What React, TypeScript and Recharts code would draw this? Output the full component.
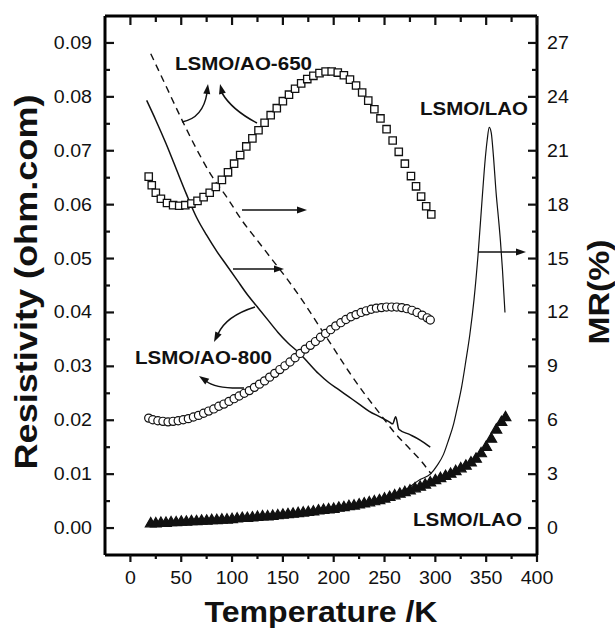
import { ComposedChart, Line, Scatter, XAxis, YAxis, ZAxis } from 'recharts';

// x axis (temperature, K)
const tempTicks = [0, 25, 50, 75, 100, 125, 150, 175, 200, 225, 250, 275, 300, 325, 350, 375, 400];
// left axis: resistivity (ohm.cm)
const rhoTicks = [0, 0.005, 0.01, 0.015, 0.02, 0.025, 0.03, 0.035, 0.04, 0.045, 0.05, 0.055, 0.06, 0.065, 0.07, 0.075, 0.08, 0.085, 0.09];
// right axis: MR (%)
const mrTicks = [0, 1.5, 3, 4.5, 6, 7.5, 9, 10.5, 12, 13.5, 15, 16.5, 18, 19.5, 21, 22.5, 24, 25.5, 27];

// LSMO/AO-650 resistivity (squares)
const ao650T = [18, 21, 25, 30, 36, 42, 48, 54, 60, 66, 72, 78, 84, 90, 96, 102, 108, 114, 120, 126, 132, 138, 144, 150, 156, 162, 168, 174, 180, 186, 192, 198, 204, 210, 216, 222, 228, 234, 240, 246, 252, 258, 264, 270, 276, 281, 286, 291, 296];
const ao650Rho = [0.0652, 0.0636, 0.0622, 0.0611, 0.0603, 0.0599, 0.0598, 0.0599, 0.0602, 0.0607, 0.0614, 0.0622, 0.0633, 0.0646, 0.066, 0.0676, 0.0692, 0.0708, 0.0723, 0.0738, 0.0752, 0.0766, 0.0779, 0.0792, 0.0804, 0.0815, 0.0825, 0.0833, 0.0839, 0.0844, 0.0847, 0.0847, 0.0845, 0.084, 0.0832, 0.0821, 0.0808, 0.0793, 0.0777, 0.076, 0.074, 0.0719, 0.0698, 0.0676, 0.0653, 0.0634, 0.0615, 0.0597, 0.0582];

// LSMO/AO-800 resistivity (circles)
const ao800T = [18, 22, 27, 32, 37, 42, 47, 52, 57, 62, 67, 72, 77, 82, 87, 92, 97, 102, 107, 112, 117, 122, 127, 132, 137, 142, 147, 152, 157, 162, 167, 172, 177, 182, 187, 192, 197, 202, 207, 212, 217, 222, 227, 232, 237, 242, 247, 252, 257, 262, 267, 272, 277, 282, 287, 292, 295];
const ao800Rho = [0.0204, 0.0201, 0.0199, 0.0198, 0.0197, 0.0198, 0.0199, 0.0201, 0.0203, 0.0206, 0.0209, 0.0213, 0.0217, 0.0221, 0.0226, 0.023, 0.0235, 0.024, 0.0245, 0.025, 0.0255, 0.0261, 0.0267, 0.0273, 0.028, 0.0287, 0.0294, 0.0301, 0.0308, 0.0316, 0.0324, 0.0332, 0.0339, 0.0346, 0.0354, 0.0361, 0.0368, 0.0375, 0.0381, 0.0387, 0.0392, 0.0396, 0.04, 0.0403, 0.0406, 0.0408, 0.0409, 0.041, 0.041, 0.041, 0.0409, 0.0407, 0.0404, 0.04, 0.0395, 0.039, 0.0386];

// LSMO/LAO resistivity (triangles)
const laoT = [20, 25, 30, 35, 40, 45, 50, 55, 60, 65, 70, 75, 80, 85, 90, 95, 100, 105, 110, 115, 120, 125, 130, 135, 140, 145, 150, 155, 160, 165, 170, 175, 180, 185, 190, 195, 200, 205, 210, 215, 220, 225, 230, 235, 240, 245, 250, 255, 260, 265, 270, 275, 280, 285, 290, 295, 300, 305, 310, 315, 320, 325, 330, 335, 340, 345, 350, 355, 360, 365, 369];
const laoRho = [0.0008, 0.0008, 0.0009, 0.0009, 0.001, 0.001, 0.0011, 0.0011, 0.0012, 0.0012, 0.0013, 0.0013, 0.0014, 0.0014, 0.0015, 0.0015, 0.0016, 0.0017, 0.0018, 0.0018, 0.0019, 0.002, 0.0021, 0.0021, 0.0022, 0.0023, 0.0024, 0.0025, 0.0026, 0.0027, 0.0028, 0.0029, 0.003, 0.0032, 0.0033, 0.0034, 0.0035, 0.0037, 0.0038, 0.004, 0.0041, 0.0043, 0.0045, 0.0047, 0.0049, 0.0051, 0.0054, 0.0057, 0.006, 0.0063, 0.0066, 0.0069, 0.0073, 0.0076, 0.008, 0.0084, 0.0088, 0.0092, 0.0096, 0.01, 0.0105, 0.011, 0.0115, 0.0121, 0.0128, 0.0138, 0.015, 0.0165, 0.0182, 0.0196, 0.0205];

// MR of AO-650 (dashed)
const mr650T = [20, 35, 50, 65, 80, 95, 110, 125, 140, 155, 170, 185, 200, 215, 230, 245, 260, 275, 285, 296];
const mr650 = [26.4, 24.6, 22.8, 21.1, 19.6, 18.4, 17.1, 16.0, 14.9, 13.8, 12.6, 11.3, 10.0, 8.7, 7.5, 6.4, 5.3, 4.4, 3.8, 3.0];

// MR of AO-800 (solid)
const mr800T = [16, 25, 35, 45, 55, 65, 75, 85, 95, 105, 115, 125, 135, 145, 155, 165, 175, 185, 195, 205, 215, 225, 235, 245, 255, 258, 261, 264, 275, 285, 295];
const mr800 = [23.8, 22.7, 21.4, 20.0, 18.6, 17.3, 16.3, 15.4, 14.6, 13.8, 13.0, 12.3, 11.6, 10.9, 10.3, 9.8, 9.2, 8.6, 8.1, 7.7, 7.3, 6.9, 6.5, 6.2, 5.9, 5.8, 6.2, 5.5, 5.2, 4.9, 4.5];

// MR of LAO (thin solid)
const mrLaoT = [265, 275, 285, 295, 302, 308, 313, 318, 322, 326, 330, 334, 338, 342, 346, 349, 351, 353, 355, 357, 360, 362, 364, 366, 368.5];
const mrLao = [1.9, 2.3, 2.7, 3.0, 3.5, 4.1, 4.9, 5.8, 6.8, 7.9, 9.3, 10.8, 12.7, 15.2, 18.3, 20.5, 21.6, 22.3, 22.0, 20.8, 18.5, 17.3, 16.0, 14.4, 12.0];

const toRows = (xs: number[], ys: number[]) => xs.map((T, i) => ({ T, v: ys[i] }));

const FONT = '"Liberation Sans", Arial, Helvetica, sans-serif';
const INK = '#111';

const BottomTick = ({ x, y, payload }: any) => {
  const major = payload.value % 50 === 0;
  return (
    <g>
      <line x1={x} y1={y} x2={x} y2={y + (major ? 7 : 4)} stroke={INK} strokeWidth={2.2} />
      {major && (
        <text transform={`translate(${x},${y + 29}) scale(1.12,1)`} textAnchor="middle" fontSize={17.5} fontFamily={FONT} fill={INK}>
          {payload.value}
        </text>
      )}
    </g>
  );
};

const TopTick = ({ x, y, payload }: any) => {
  const major = payload.value % 50 === 0;
  return <line x1={x} y1={y} x2={x} y2={y + (major ? 9 : 6)} stroke={INK} strokeWidth={2.2} />;
};

const LeftTick = ({ x, y, payload }: any) => {
  const major = Math.round(payload.value * 1000) % 10 === 0;
  return (
    <g>
      <line x1={x} y1={y} x2={x + (major ? 9 : 5)} y2={y} stroke={INK} strokeWidth={2.2} />
      {major && (
        <text transform={`translate(${x - 13},${y + 6}) scale(1.12,1)`} textAnchor="end" fontSize={17.5} fontFamily={FONT} fill={INK}>
          {payload.value.toFixed(2)}
        </text>
      )}
    </g>
  );
};

const RightTick = ({ x, y, payload }: any) => {
  const major = payload.value % 3 === 0;
  return (
    <g>
      <line x1={x} y1={y} x2={x - (major ? 9 : 5)} y2={y} stroke={INK} strokeWidth={2.2} />
      {major && (
        <text transform={`translate(${x + 10},${y + 6}) scale(1.12,1)`} textAnchor="start" fontSize={17.5} fontFamily={FONT} fill={INK}>
          {payload.value}
        </text>
      )}
    </g>
  );
};

// curved / straight annotation arrow, head drawn along the last segment
function Arrow({ d, from, tip }: { d: string; from: [number, number]; tip: [number, number] }) {
  const [fx, fy] = from;
  const [tx, ty] = tip;
  const len = Math.hypot(tx - fx, ty - fy) || 1;
  const ux = (tx - fx) / len;
  const uy = (ty - fy) / len;
  const bx = tx - ux * 10;
  const by = ty - uy * 10;
  const head = `${tx},${ty} ${bx - uy * 3.5},${by + ux * 3.5} ${bx + uy * 3.5},${by - ux * 3.5}`;
  return (
    <g>
      <path d={d} fill="none" stroke={INK} strokeWidth={1.5} />
      <polygon points={head} fill={INK} />
    </g>
  );
}

const axisLine = { stroke: '#000', strokeWidth: 3 };

export default function App() {
  return (
    <div style={{ position: 'absolute', left: 0, top: 0, width: 615, height: 631, background: '#fff', fontFamily: FONT }}>
      <ComposedChart width={615} height={631} margin={{ top: 14, right: 76, bottom: 74, left: 103 }}>
        <XAxis xAxisId="b" type="number" dataKey="T" domain={[-25, 400]} ticks={tempTicks} interval={0}
          allowDataOverflow tickSize={0} tickMargin={0} height={2} axisLine={axisLine} tickLine={false} tick={<BottomTick />} />
        <XAxis xAxisId="t" orientation="top" type="number" dataKey="T" domain={[-25, 400]} ticks={tempTicks} interval={0}
          allowDataOverflow tickSize={0} tickMargin={0} height={2} axisLine={axisLine} tickLine={false} tick={<TopTick />} />
        <YAxis yAxisId="l" type="number" domain={[-0.005, 0.095]} ticks={rhoTicks} interval={0} allowDataOverflow
          tickSize={0} tickMargin={0} width={2} axisLine={axisLine} tickLine={false} tick={<LeftTick />} />
        <YAxis yAxisId="r" orientation="right" type="number" domain={[-1.5, 28.5]} ticks={mrTicks} interval={0} allowDataOverflow
          tickSize={0} tickMargin={0} width={2} axisLine={axisLine} tickLine={false} tick={<RightTick />} />
        <ZAxis zAxisId="sq" range={[54, 54]} />
        <ZAxis zAxisId="ci" range={[52, 52]} />
        <ZAxis zAxisId="tr" range={[50, 50]} />

        <Line xAxisId="b" yAxisId="r" data={toRows(mr650T, mr650)} dataKey="v" type="monotone" stroke={INK}
          strokeWidth={1.4} strokeDasharray="7 5" dot={false} isAnimationActive={false} />
        <Line xAxisId="b" yAxisId="r" data={toRows(mr800T, mr800)} dataKey="v" type="monotone" stroke={INK}
          strokeWidth={1.5} dot={false} isAnimationActive={false} />
        <Line xAxisId="b" yAxisId="r" data={toRows(mrLaoT, mrLao)} dataKey="v" type="monotone" stroke={INK}
          strokeWidth={1.2} dot={false} isAnimationActive={false} />

        <Scatter xAxisId="b" yAxisId="l" zAxisId="tr" data={toRows(laoT, laoRho)} dataKey="v" shape="triangle"
          fill={INK} stroke={INK} strokeWidth={1.2} isAnimationActive={false} />
        <Scatter xAxisId="b" yAxisId="l" zAxisId="ci" data={toRows(ao800T, ao800Rho)} dataKey="v" shape="circle"
          fill="#fff" stroke={INK} strokeWidth={1.2} isAnimationActive={false} />
        <Scatter xAxisId="b" yAxisId="l" zAxisId="sq" data={toRows(ao650T, ao650Rho)} dataKey="v" shape="square"
          fill="#fff" stroke={INK} strokeWidth={1.3} isAnimationActive={false} />
      </ComposedChart>

      <svg width={615} height={631} style={{ position: 'absolute', left: 0, top: 0, pointerEvents: 'none' }} fontFamily={FONT}>
        {/* axis titles */}
        <text transform="translate(37,282) rotate(-90)" textAnchor="middle" fontSize={31} fontWeight="bold" fill={INK}
          textLength={375} lengthAdjust="spacingAndGlyphs">Resistivity (ohm.com)</text>
        <text x={321} y={622} textAnchor="middle" fontSize={30} fontWeight="bold" fill={INK}
          textLength={233} lengthAdjust="spacingAndGlyphs">Temperature /K</text>
        <text transform="translate(609,292) rotate(-90)" textAnchor="middle" fontSize={30} fontWeight="bold" fill={INK}
          textLength={105} lengthAdjust="spacingAndGlyphs">MR(%)</text>

        {/* series labels */}
        <text x={175} y={69.5} fontSize={17.5} fontWeight="bold" fill={INK} textLength={137} lengthAdjust="spacingAndGlyphs">LSMO/AO-650</text>
        <text x={135} y={364} fontSize={17.5} fontWeight="bold" fill={INK} textLength={137} lengthAdjust="spacingAndGlyphs">LSMO/AO-800</text>
        <text x={420} y={114.5} fontSize={17.5} fontWeight="bold" fill={INK} textLength={108} lengthAdjust="spacingAndGlyphs">LSMO/LAO</text>
        <text x={413} y={525.5} fontSize={17.5} fontWeight="bold" fill={INK} textLength={109} lengthAdjust="spacingAndGlyphs">LSMO/LAO</text>

        {/* pointer arrows */}
        <Arrow d="M182 122 Q203 118 207 93" from={[206, 100]} tip={[208, 84]} />
        <Arrow d="M257 123 Q232 110 222 93" from={[224, 100]} tip={[220, 84]} />
        <Arrow d="M242 210 L298 210" from={[242, 210]} tip={[307, 210]} />
        <Arrow d="M233 269 L275 269" from={[233, 269]} tip={[284, 269]} />
        <Arrow d="M255 307 Q226 316 218 334" from={[221, 328]} tip={[214, 342]} />
        <Arrow d="M244 388 Q216 389 206 381" from={[212, 385]} tip={[199, 376]} />
        <Arrow d="M478 252 L517 252" from={[478, 252]} tip={[526, 252]} />
      </svg>
    </div>
  );
}
